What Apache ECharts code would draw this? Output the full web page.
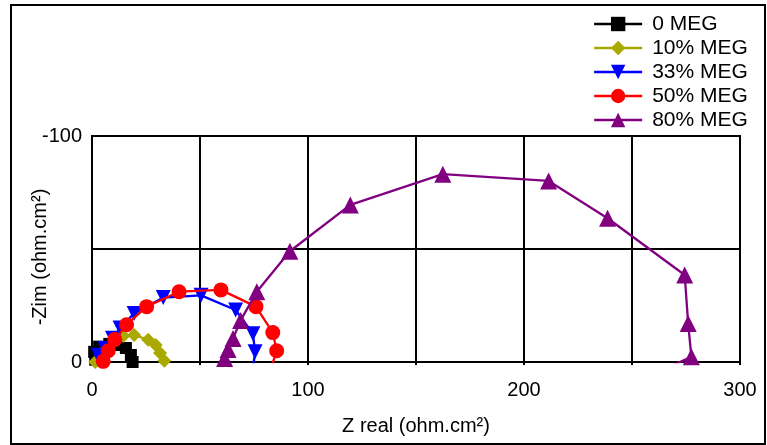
<!DOCTYPE html>
<html>
<head>
<meta charset="utf-8">
<title>Nyquist plot – MEG concentration</title>
<script src="https://cdn.jsdelivr.net/npm/echarts@6/dist/echarts.min.js"></script>
<style>
  html, body { margin: 0; padding: 0; background: #fff; }
  #chart { width: 767px; height: 445px; }
</style>
</head>
<body>
<div id="chart"></div>
<script>
// Impedance data: [Z real, Z imaginary] in ohm.cm², imaginary part negative
const seriesNames = ['0 MEG', '10% MEG', '33% MEG', '50% MEG', '80% MEG'];

const meg0 = [
  [1.5, -1], [1, -4.5], [3.3, -6.8], [8, -8], [12, -7.5],
  [15.7, -6.2], [18, -3.1], [18.8, 0]
];
const meg10 = [
  [1.5, 0], [4, -3.5], [8, -7], [14.5, -11.5], [19.5, -12],
  [26, -9.8], [29.5, -7.5], [31.5, -4], [33.5, -0.5]
];
const meg33 = [
  [4, -0.5], [3, -3], [6, -6], [9.5, -10.5], [13, -15],
  [19.5, -21.5], [33, -28.5], [50.5, -29.5], [66.5, -23],
  [74.5, -12.5], [75.5, -4.5], [74.5, 3]
];
const meg50 = [
  [5.2, -0.3], [7.5, -5], [10.5, -10], [16, -16.5], [25.3, -24.5],
  [40.3, -31.1], [59.7, -31.9], [75.9, -24.5], [83.7, -13],
  [85.5, -5], [82.5, 4]
];
const meg80 = [
  [57.5, 2], [61.4, -1.5], [63, -5.5], [65.3, -10.4], [68.8, -18.4],
  [76.3, -31.1], [91.6, -49], [119.6, -69.5], [162.4, -83.1],
  [211.4, -80.1], [238.7, -63.6], [274.4, -38.5], [276, -17],
  [277.5, -2.3], [262, 4.5]
];

const seriesData = [meg0, meg10, meg33, meg50, meg80];
const colors = ['#000000', '#a9a900', '#0000ff', '#ff0000', '#800080'];
const symbols = ['rect', 'diamond', 'triangle', 'circle', 'triangle'];
const symbolSizes = [12, 14, 15, 15, 17];
const symbolRotations = [0, 0, 180, 0, 0];

const xTicks = [0, 100, 200, 300];
const yTicks = [-100, 0];

const FONT = "'Liberation Sans', Arial, sans-serif";

const chart = echarts.init(document.getElementById('chart'), null, { renderer: 'canvas' });

const series = seriesNames.map((name, i) => ({
  name: name,
  type: 'line',
  data: seriesData[i],
  color: colors[i],
  symbol: symbols[i],
  symbolSize: symbolSizes[i],
  symbolRotate: symbolRotations[i],
  showAllSymbol: true,
  clip: true,
  lineStyle: { width: 2.3, color: colors[i] },
  itemStyle: { color: colors[i] },
  emphasis: { disabled: true },
  z: 2 + i
}));

chart.setOption({
  animation: false,
  backgroundColor: '#ffffff',
  textStyle: { fontFamily: FONT, color: '#000' },
  grid: {
    left: 92, right: 27, top: 136, bottom: 83,
    show: true, borderColor: '#000', borderWidth: 2,
    containLabel: false
  },
  legend: {
    orient: 'vertical',
    left: 593, top: 12,
    padding: 0,
    itemWidth: 48, itemHeight: 18, itemGap: 0,
    data: seriesNames,
    lineStyle: { width: 2.3 },
    textStyle: { fontFamily: FONT, fontSize: 21, color: '#000', lineHeight: 24, padding: [0, 0, 0, 5] },
    selectedMode: false
  },
  xAxis: {
    type: 'value',
    min: 0, max: 300, interval: 50,
    name: 'Z real (ohm.cm²)',
    nameLocation: 'middle',
    nameGap: 54,
    nameTextStyle: { fontFamily: FONT, fontSize: 20, color: '#000' },
    axisLine: { show: true, onZero: false, lineStyle: { color: '#000', width: 2 } },
    axisTick: { show: true, inside: false, length: 3, lineStyle: { color: '#000', width: 2 } },
    axisLabel: {
      margin: 18, fontFamily: FONT, fontSize: 20, color: '#000',
      formatter: v => (xTicks.indexOf(v) >= 0 ? String(v) : '')
    },
    splitLine: { show: true, lineStyle: { color: '#000', width: 2 } }
  },
  yAxis: {
    type: 'value',
    inverse: true,
    min: -100, max: 0, interval: 50,
    axisLine: { show: true, onZero: false, lineStyle: { color: '#000', width: 2 } },
    axisTick: { show: false },
    axisLabel: {
      margin: 10, fontFamily: FONT, fontSize: 20, color: '#000',
      formatter: v => (yTicks.indexOf(v) >= 0 ? String(v) : '')
    },
    splitLine: { show: true, lineStyle: { color: '#000', width: 2 } }
  },
  graphic: [
    {
      type: 'rect',
      shape: { x: 11, y: 5, width: 754, height: 439 },
      style: { fill: 'none', stroke: '#000', lineWidth: 2 },
      silent: true, z: -1
    },
    {
      type: 'text',
      x: 40, y: 257,
      rotation: Math.PI / 2,
      style: {
        text: '-Zim (ohm.cm²)',
        font: "20px 'Liberation Sans', Arial, sans-serif",
        fill: '#000',
        align: 'center',
        verticalAlign: 'middle'
      },
      silent: true
    }
  ],
  series: series
});
</script>
</body>
</html>
